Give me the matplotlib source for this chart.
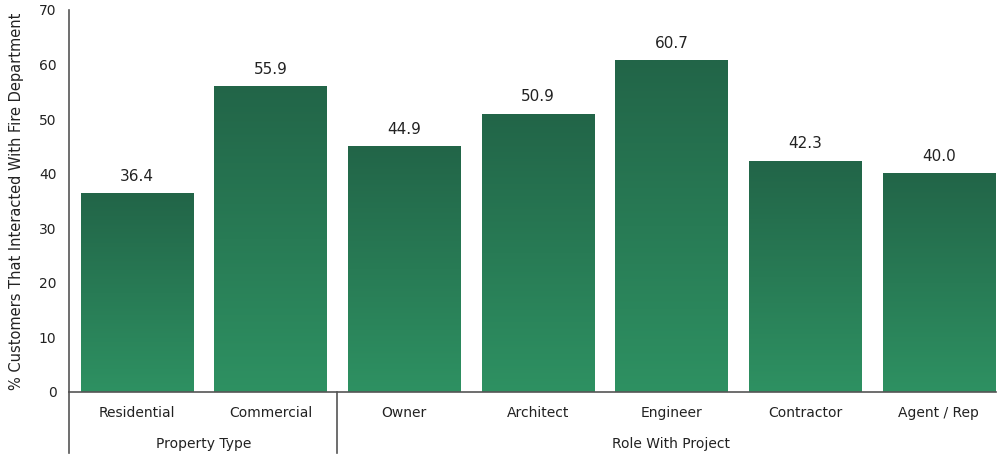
import matplotlib.pyplot as plt
import matplotlib.transforms as mtransforms
import numpy as np
from matplotlib.colors import LinearSegmentedColormap

categories = ['Residential', 'Commercial', 'Owner', 'Architect', 'Engineer', 'Contractor', 'Agent / Rep']
values = [36.4, 55.9, 44.9, 50.9, 60.7, 42.3, 40.0]
groups = ['Property Type', 'Role With Project']
group_sizes = [2, 5]

fig = plt.figure(figsize=(9.97, 4.54), dpi=100)
ax = fig.add_axes([0.0692, 0.1366, 0.93, 0.8414])

# green gradient, light at the base and dark at the top of each bar
cmap = LinearSegmentedColormap.from_list('bar_green', ['#2e9162', '#226548'])
grad = np.linspace(0, 1, 256).reshape(-1, 1)

bars = ax.bar(range(len(categories)), values, width=0.84, color='none', edgecolor='none')
for bar, val in zip(bars, values):
    x0 = bar.get_x()
    w = bar.get_width()
    ax.imshow(grad, extent=[x0, x0 + w, 0, val], origin='lower', aspect='auto',
              cmap=cmap, zorder=2)
    ax.text(x0 + w / 2, val + 1.8, f'{val:.1f}', ha='center', va='bottom',
            fontsize=11, color='#222222')

ax.set_xlim(-0.508, 6.43)
ax.set_ylim(0, 70)
ax.set_yticks(range(0, 71, 10))
ax.set_xticks(range(len(categories)))
ax.set_xticklabels(categories)
ax.tick_params(axis='both', length=0, labelsize=10, colors='#222222')
ax.tick_params(axis='y', pad=9)
ax.tick_params(axis='x', pad=10)

for side in ['top', 'right']:
    ax.spines[side].set_visible(False)
for side in ['left', 'bottom']:
    ax.spines[side].set_color('#555555')
    ax.spines[side].set_linewidth(1.2)

ax.set_ylabel('% Customers That Interacted With Fire Department', fontsize=10.5,
              color='#222222', labelpad=11)

# group separators and group labels below the category labels
trans = mtransforms.blended_transform_factory(ax.transData, ax.transAxes)
start = 0
edges = [-0.508]
for name, size in zip(groups, group_sizes):
    center = start + (size - 1) / 2
    ax.text(center, -0.135, name, transform=trans, ha='center', va='center',
            fontsize=10, color='#222222')
    start += size
    if start < len(categories):
        edges.append(start - 0.5)
for ex in edges:
    ax.plot([ex, ex], [0, -0.16], transform=trans, color='#555555', lw=1.2, clip_on=False)

fig.savefig('out.png', dpi=100)
